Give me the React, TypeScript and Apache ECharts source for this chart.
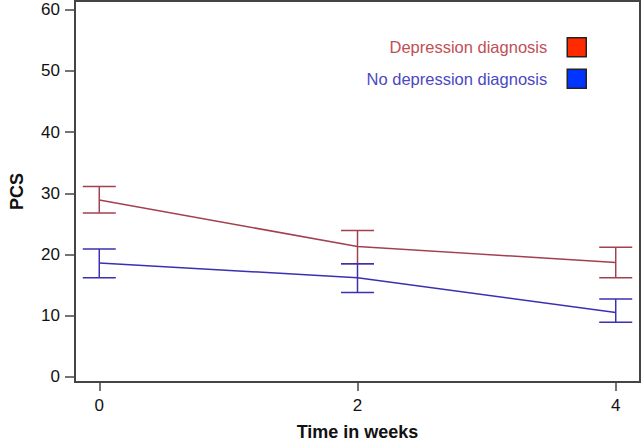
import React, { useEffect, useRef } from "react";
import * as echarts from "echarts";

const weeks = [0, 2, 4];
const xTicks = [0, 2, 4];
const yTicks = [0, 10, 20, 30, 40, 50, 60];

const depName = "Depression diagnosis";
const depMean = [28.9, 21.3, 18.7];
const depLower = [26.8, 18.5, 16.2];
const depUpper = [31.1, 23.9, 21.2];

const noDepName = "No depression diagnosis";
const noDepMean = [18.6, 16.2, 10.5];
const noDepLower = [16.2, 13.8, 8.9];
const noDepUpper = [20.9, 18.5, 12.7];

const FONT = "'Liberation Sans', Arial, Helvetica, sans-serif";
const AXIS_COLOR = "#444444";
const DEP_LINE = "#a3404e";
const NODEP_LINE = "#3b30b2";

function errorSeries(name: string, lower: number[], upper: number[], color: string) {
  return {
    type: "custom",
    name: name + " error",
    data: weeks.map((w, i) => [w, lower[i], upper[i]]),
    encode: { x: 0, y: [1, 2] },
    silent: true,
    z: 3,
    renderItem: (params: any, api: any) => {
      const x = api.value(0);
      const pLo = api.coord([x, api.value(1)]);
      const pHi = api.coord([x, api.value(2)]);
      const hw = 16.5;
      const style = { stroke: color, lineWidth: 1.5 };
      return {
        type: "group",
        children: [
          { type: "line", shape: { x1: pLo[0], y1: pLo[1], x2: pHi[0], y2: pHi[1] }, style },
          { type: "line", shape: { x1: pLo[0] - hw, y1: pLo[1], x2: pLo[0] + hw, y2: pLo[1] }, style },
          { type: "line", shape: { x1: pHi[0] - hw, y1: pHi[1], x2: pHi[0] + hw, y2: pHi[1] }, style },
        ],
      };
    },
  };
}

export default function App() {
  const ref = useRef<HTMLDivElement>(null);
  useEffect(() => {
    if (!ref.current) return;
    const chart = echarts.init(ref.current, null, { renderer: "svg" });
    chart.setOption({
      animation: false,
      backgroundColor: "#ffffff",
      textStyle: { fontFamily: FONT },
      grid: {
        left: 59,
        right: 2,
        top: 1,
        bottom: 55,
        show: true,
        borderColor: AXIS_COLOR,
        borderWidth: 2,
        containLabel: false,
      },
      legend: {
        orient: "vertical",
        right: 50,
        top: 32,
        align: "right",
        itemWidth: 19,
        itemHeight: 19,
        itemGap: 11,
        selectedMode: false,
        textStyle: { fontSize: 16.5, fontFamily: FONT, padding: [0, 15, 0, 0] },
        data: [
          {
            name: depName,
            icon: "rect",
            itemStyle: { color: "#ff2a00", borderColor: "#222222", borderWidth: 1.5 },
            textStyle: { color: "#c05055" },
          },
          {
            name: noDepName,
            icon: "rect",
            itemStyle: { color: "#0035ff", borderColor: "#222222", borderWidth: 1.5 },
            textStyle: { color: "#4a48c4" },
          },
        ],
      },
      xAxis: {
        type: "value",
        min: -0.188,
        max: 4.188,
        name: "Time in weeks",
        nameLocation: "middle",
        nameGap: 41,
        nameTextStyle: { fontSize: 18, fontWeight: "bold", color: "#111111", fontFamily: FONT },
        axisLine: { show: false, onZero: false },
        splitLine: { show: false },
        axisTick: { show: true, length: 9, customValues: xTicks, lineStyle: { color: AXIS_COLOR, width: 1.5 } },
        axisLabel: { customValues: xTicks, margin: 15, fontSize: 17, color: "#111111", fontFamily: FONT },
      },
      yAxis: {
        type: "value",
        min: -0.85,
        max: 61.44,
        name: "PCS",
        nameLocation: "middle",
        nameGap: 49,
        nameTextStyle: { fontSize: 18, fontWeight: "bold", color: "#111111", fontFamily: FONT },
        axisLine: { show: false, onZero: false },
        splitLine: { show: false },
        axisTick: { show: true, length: 10, customValues: yTicks, lineStyle: { color: AXIS_COLOR, width: 1.5 } },
        axisLabel: { customValues: yTicks, margin: 15, fontSize: 17, color: "#111111", fontFamily: FONT },
      },
      series: [
        {
          type: "line",
          name: depName,
          data: weeks.map((w, i) => [w, depMean[i]]),
          showSymbol: false,
          symbol: "none",
          lineStyle: { color: DEP_LINE, width: 1.5 },
          itemStyle: { color: DEP_LINE },
          z: 2,
        },
        {
          type: "line",
          name: noDepName,
          data: weeks.map((w, i) => [w, noDepMean[i]]),
          showSymbol: false,
          symbol: "none",
          lineStyle: { color: NODEP_LINE, width: 1.5 },
          itemStyle: { color: NODEP_LINE },
          z: 2,
        },
        errorSeries(depName, depLower, depUpper, DEP_LINE),
        errorSeries(noDepName, noDepLower, noDepUpper, NODEP_LINE),
      ],
    });
    return () => chart.dispose();
  }, []);
  return (
    <div
      ref={ref}
      style={{ position: "fixed", left: 0, top: 0, width: 642, height: 446, background: "#fff" }}
    />
  );
}
